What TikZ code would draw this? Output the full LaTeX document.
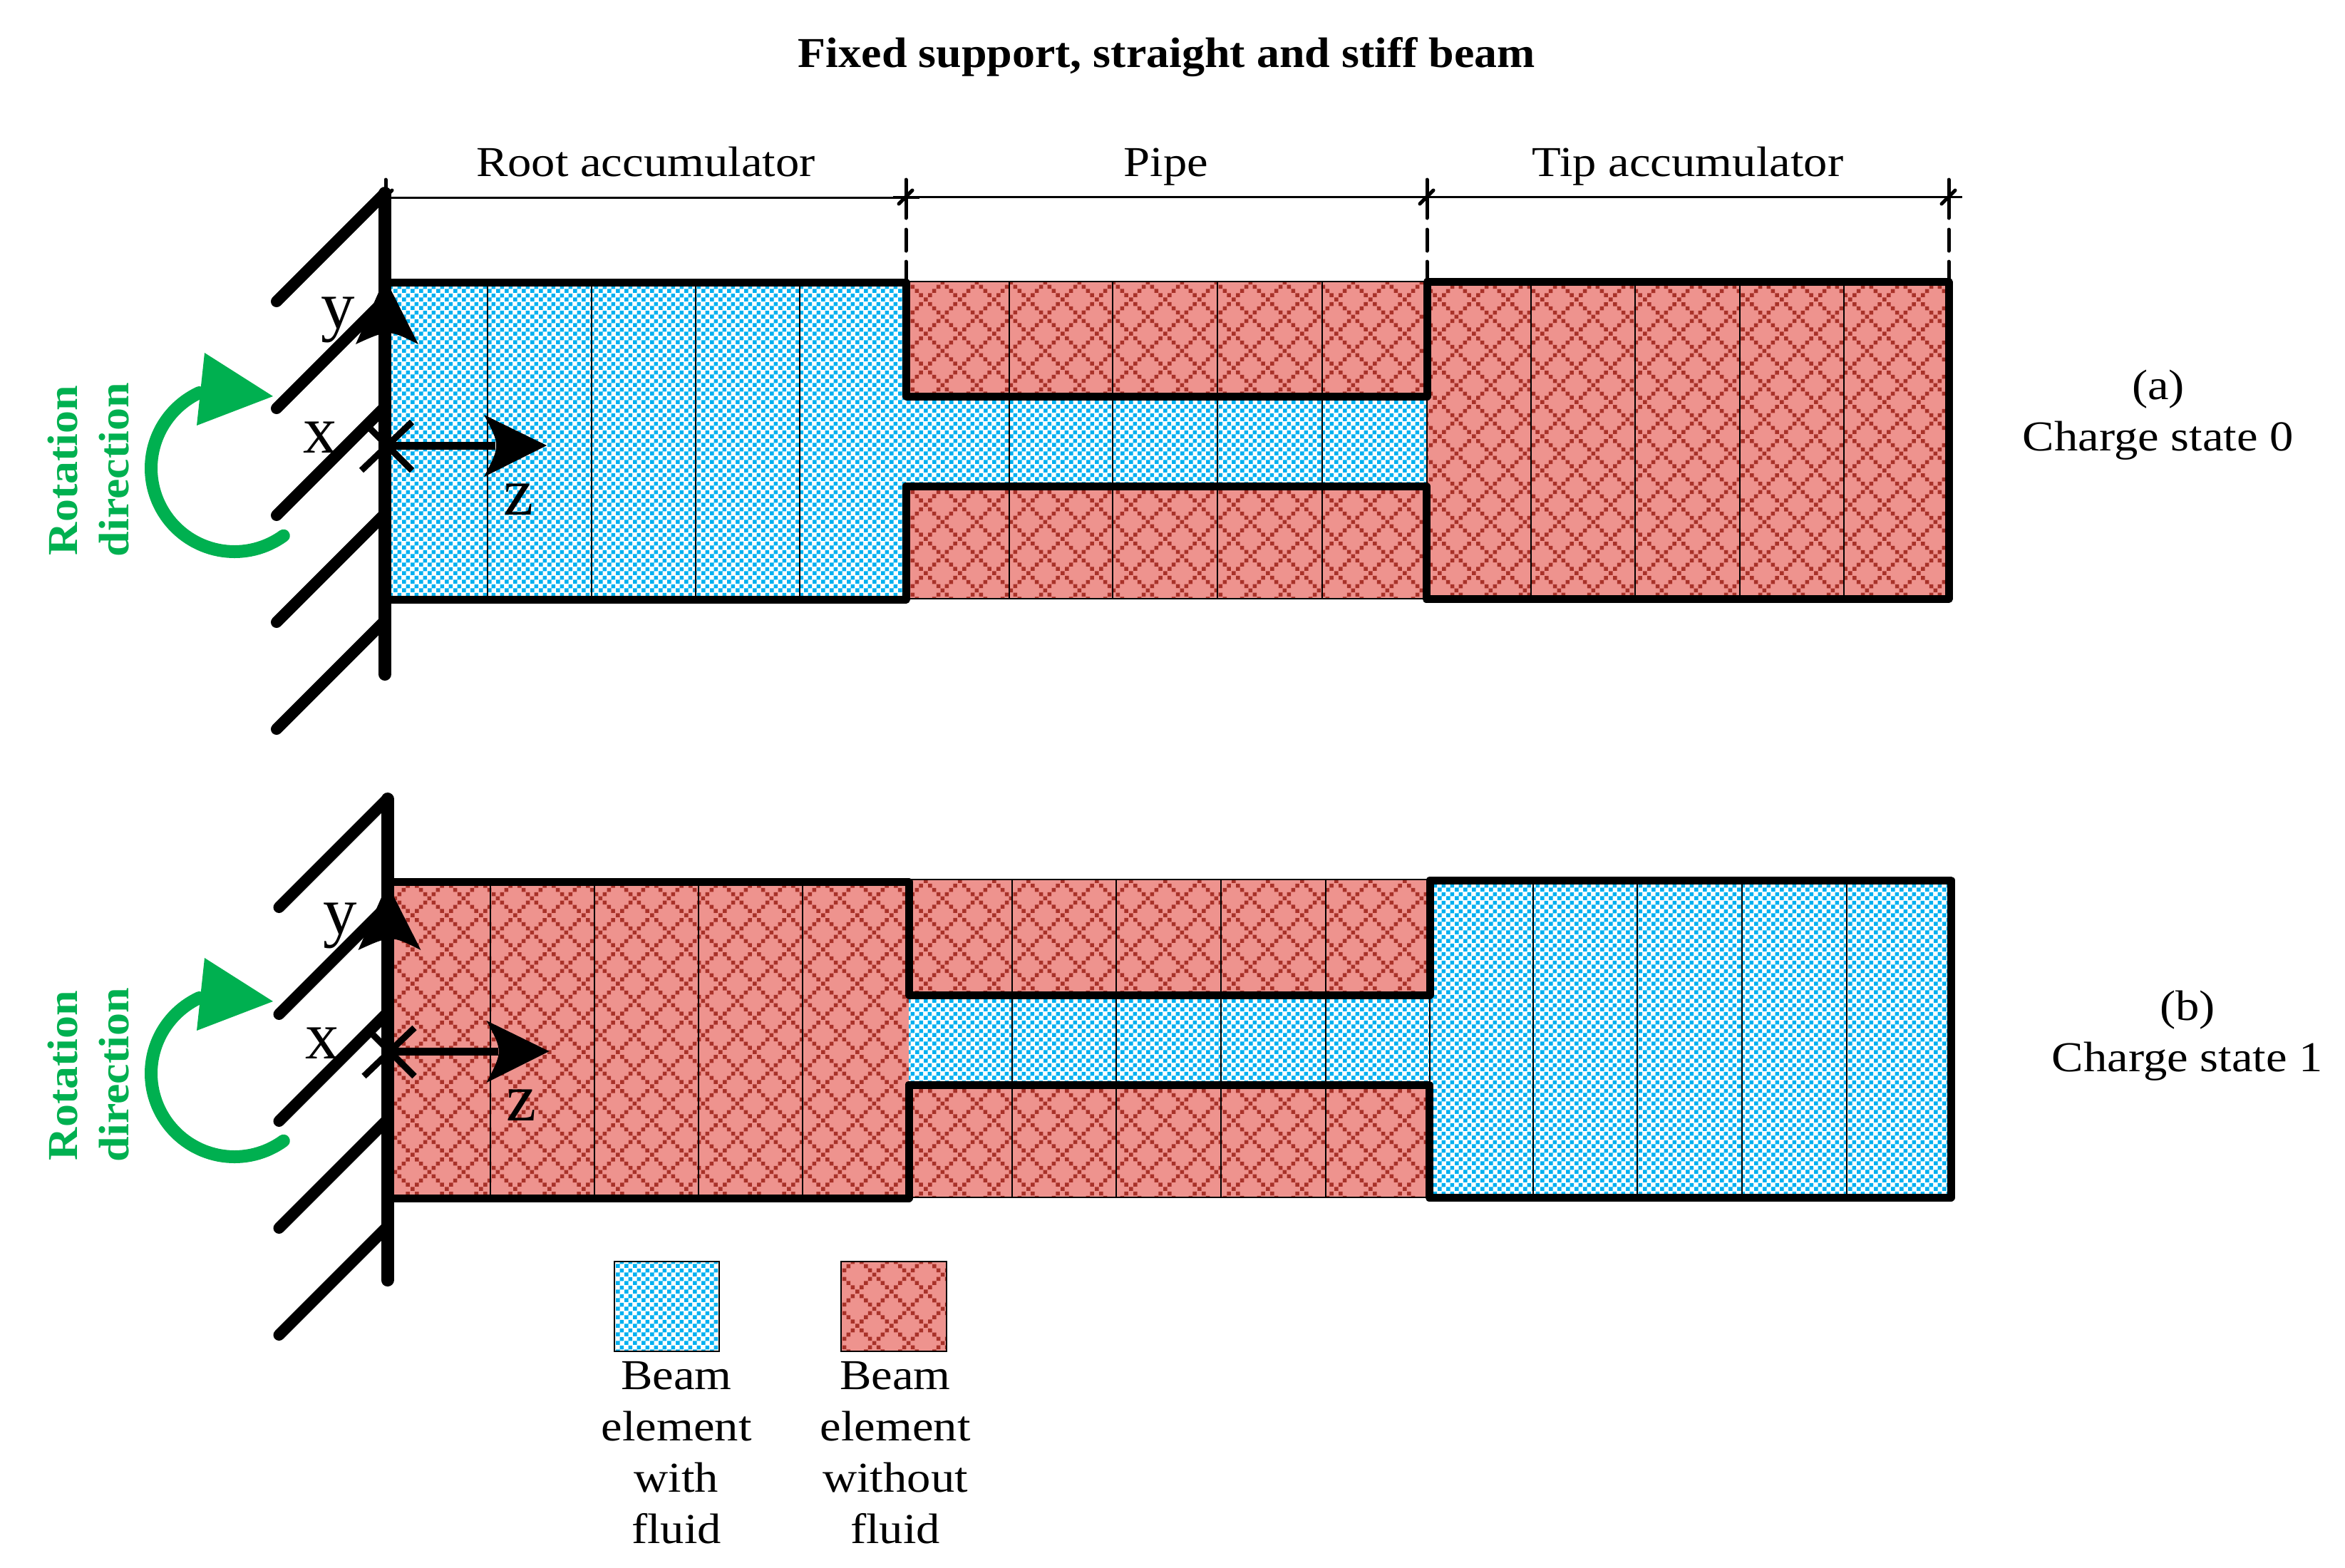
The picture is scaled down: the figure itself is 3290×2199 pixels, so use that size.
\documentclass[tikz,border=0pt]{standalone}
\usepackage{fontspec}
\setmainfont[FakeStretch=1.115]{Liberation Serif}
\newfontfamily\axisfont{Liberation Serif}
\newfontfamily\boldfam[FakeStretch=1.07]{Liberation Serif}
\usetikzlibrary{patterns}
\definecolor{fluidblue}{HTML}{00B0F0}
\definecolor{drybg}{HTML}{EE938E}
\definecolor{drydark}{HTML}{A83229}
\definecolor{rotgreen}{HTML}{00B050}
\pgfdeclarepatternformonly{bluecheck}{\pgfpointorigin}{\pgfpoint{.12cm}{.12cm}}{\pgfpoint{.12cm}{.12cm}}{%
  \pgfpathrectangle{\pgfpointorigin}{\pgfpoint{.06cm}{.06cm}}%
  \pgfpathrectangle{\pgfpoint{.06cm}{.06cm}}{\pgfpoint{.06cm}{.06cm}}%
  \pgfusepath{fill}}
\newcommand{\redsq}[2]{\pgfpathrectangle{\pgfpoint{#1*.06cm+.002cm}{#2*.06cm+.002cm}}{\pgfpoint{.056cm}{.056cm}}}
\pgfdeclarepatternformonly{redlattice}{\pgfpointorigin}{\pgfpoint{.48cm}{.48cm}}{\pgfpoint{.48cm}{.48cm}}{%
  \redsq{0}{0}\redsq{1}{1}\redsq{2}{2}\redsq{3}{3}\redsq{4}{4}\redsq{5}{5}\redsq{6}{6}\redsq{7}{7}%
  \redsq{1}{7}\redsq{2}{6}\redsq{3}{5}\redsq{5}{3}\redsq{6}{2}\redsq{7}{1}%
  \pgfusepath{fill}}
\tikzset{
  fluid/.style={fill=white,postaction={pattern=bluecheck,pattern color=fluidblue}},
  dry/.style={fill=drybg,postaction={pattern=redlattice,pattern color=drydark}},
  thinline/.style={draw=black,line width=.012cm},
  heavy/.style={draw=black,line width=.11cm,line join=round},
  wallline/.style={draw=black,line width=.18cm,line cap=round},
  hatchline/.style={draw=black,line width=.16cm,line cap=round},
  dimline/.style={draw=black,line width=.03cm},
  dimtick/.style={draw=black,line width=.05cm,line cap=round},
  txt/.style={inner sep=0pt,font=\fontsize{17}{20.5}\selectfont,align=center},
  headtxt/.style={inner sep=0pt,anchor=base,font=\fontsize{17}{20.5}\selectfont},
  axislabel/.style={inner sep=0pt,anchor=base,font=\axisfont\fontsize{27}{27}\selectfont},
  rottxt/.style={inner sep=0pt,anchor=base,rotate=90,text=rotgreen,font=\boldfam\fontsize{17}{20}\selectfont\bfseries},
  greenarc/.style={draw=rotgreen,line width=.18cm,line cap=round},
}
\newcommand{\supportaxes}[1]{%
  \foreach \hy in {423,573,723,873,1023}{\draw[hatchline] (388,\hy) -- (540,{\hy-152});}
  \draw[wallline] (540,271) -- (540,946);
  \fill (540,390) -- (587,483) .. controls (545,462) .. (499,483) -- cycle;
  \draw[black,line width=.11cm] (540,625) -- (695,625);
  \fill (767,625) -- (679,582) .. controls (702,625) .. (679,669) -- cycle;
  \draw[black,line width=.09cm] (507,660) -- (578,592);
  \draw[black,line width=.09cm] (520,602) -- (578,660);
  \node[axislabel] (y#1) at (474,460) {y};
  \node[axislabel] (x#1) at (449,635) {x};
  \node[axislabel] (z#1) at (728,722) {z};
}
\newcommand{\rotationmark}[1]{%
  \draw[greenarc] plot[domain=54:245,samples=70] ({329+117*cos(\x)},{657+117*sin(\x)});
  \fill[rotgreen] (287,495) -- (383,556) -- (276,597) -- cycle;
  \node[rottxt] (rot#1) at (108,660) {Rotation};
  \node[rottxt] (dir#1) at (180,659) {direction};
}
\begin{document}
\begin{tikzpicture}[x=.01cm,y=-.01cm]
\useasboundingbox (0,0) rectangle (3290,2199);
\fill[white] (0,0) rectangle (3290,2199);

\node[inner sep=0pt,font=\boldfam\fontsize{17}{20}\selectfont\bfseries] (title) at (1637,80) {Fixed support, straight and stiff beam};
\node[headtxt] (lroot) at (906,247) {Root accumulator};
\node[headtxt] (lpipe) at (1636,247) {Pipe};
\node[headtxt] (ltip) at (2368,247) {Tip accumulator};

% dimension line
\draw[dimline] (541,277) -- (1290,277);
\draw[dimline] (1253,276.5) -- (2020,276.5);
\draw[dimline] (1985,276) -- (2753,276);
\foreach \dx in {541,1271,2002,2734}{
  \draw[dimtick] (\dx,252) -- (\dx,306);
  \draw[dimtick] ({\dx-10},286) -- ({\dx+9},267);
}
\foreach \dx in {1271,2002,2734}{
  \draw[dimtick] (\dx,322) -- (\dx,352);
  \draw[dimtick] (\dx,367) -- (\dx,394);
}

% state (a)
\path[fluid] (541,396) rectangle (1271,841);
\path[dry] (1271,395) rectangle (2002,556);
\path[fluid] (1271,556) rectangle (2002,682);
\path[dry] (1271,682) rectangle (2002,840);
\path[dry] (2002,395) rectangle (2734,840);
\foreach \cx in {684,830,976,1122}{\draw[thinline] (\cx,396) -- (\cx,841);}
\foreach \cx in {1416,1561,1708,1855}{\draw[thinline] (\cx,395) -- (\cx,840);}
\foreach \cx in {2148,2294,2441,2587}{\draw[thinline] (\cx,395) -- (\cx,840);}
\draw[thinline] (1271,395) -- (2002,395);
\draw[thinline] (1271,840) -- (2002,840);
\draw[thinline] (2002,556) -- (2002,682);
\draw[heavy] (541,396.5) -- (1271.5,396.5) -- (1271.5,556) -- (2002,556) -- (2002,395.5) -- (2734,395.5) -- (2734,840.5) -- (2001,840.5) -- (2001,682) -- (1271,682) -- (1271,841.5) -- (541,841.5);
\supportaxes{a}
\rotationmark{a}
\node[txt] (sa) at (3028,582) {(a)\\Charge state 0};

% state (b)
\path[dry] (545,1237) rectangle (1275,1681);
\path[dry] (1275,1234) rectangle (2006,1396);
\path[fluid] (1275,1396) rectangle (2006,1522);
\path[dry] (1275,1522) rectangle (2006,1680);
\path[fluid] (2006,1235) rectangle (2737,1680);
\foreach \cx in {688,834,980,1126}{\draw[thinline] (\cx,1237) -- (\cx,1681);}
\foreach \cx in {1420,1566,1713,1860}{\draw[thinline] (\cx,1234) -- (\cx,1680);}
\foreach \cx in {2151,2297,2444,2591}{\draw[thinline] (\cx,1235) -- (\cx,1680);}
\draw[thinline] (1275,1234) -- (2006,1234);
\draw[thinline] (1275,1680) -- (2006,1680);
\draw[thinline] (2006,1396) -- (2006,1522);
\draw[heavy] (545,1237) -- (1275,1237) -- (1275,1396) -- (2006,1396) -- (2006,1235) -- (2737,1235) -- (2737,1680) -- (2005,1680) -- (2005,1522) -- (1275,1522) -- (1275,1681) -- (545,1681);
\begin{scope}[shift={(3.5,850)}]
\supportaxes{b}
\end{scope}
\begin{scope}[shift={(0,849)}]
\rotationmark{b}
\end{scope}
\node[txt] (sb) at (3069,1453) {(b)\\Charge state 1};

% legend
\path[fluid] (862,1770) rectangle (1009,1896);
\draw[thinline] (862,1770) rectangle (1009,1896);
\path[dry] (1180,1770) rectangle (1328,1896);
\draw[thinline] (1180,1770) rectangle (1328,1896);
\node[txt] (lgw) at (949,2038) {Beam\\element\\with\\fluid};
\node[txt] (lgo) at (1256,2038) {Beam\\element\\without\\fluid};
\end{tikzpicture}
\end{document}
